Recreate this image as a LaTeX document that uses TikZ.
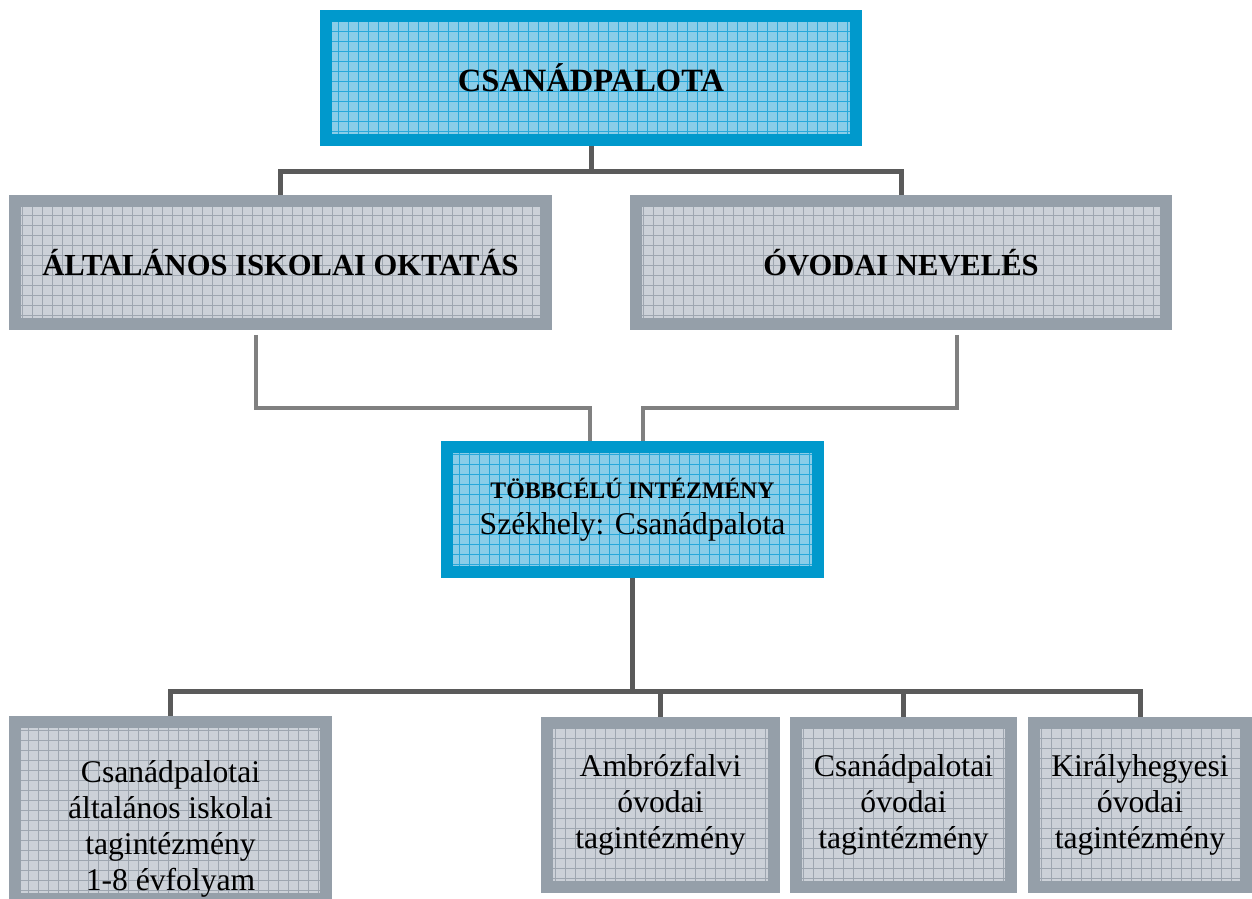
\documentclass[tikz,border=0pt]{standalone}
\usepackage{fontspec}
\setmainfont{Liberation Serif}
\usepackage{tikz}
\usetikzlibrary{calc}
\usepackage{xcolor}
\definecolor{cBlueEdge}{RGB}{0,153,204}
\definecolor{cBlueFill}{RGB}{138,205,232}
\definecolor{cBlueGrid}{RGB}{40,168,218}
\definecolor{cGrayEdge}{RGB}{149,159,169}
\definecolor{cGrayFill}{RGB}{204,209,216}
\definecolor{cGrayGrid}{RGB}{158,166,176}
\definecolor{cLineDark}{RGB}{90,90,90}
\definecolor{cLineMid}{RGB}{128,128,128}
\tikzset{
  basebox/.style={rectangle,line width=0.24cm,inner sep=0pt,align=center,
                  font=\fontsize{18}{20.5}\selectfont},
  bluebox/.style={basebox,draw=cBlueEdge,fill=cBlueFill,
                  path picture={\draw[cBlueGrid,line width=0.5pt,step=0.2cm]
                  (path picture bounding box.south west) grid
                  (path picture bounding box.north east);}},
  graybox/.style={basebox,draw=cGrayEdge,fill=cGrayFill,
                  path picture={\draw[cGrayGrid,line width=0.5pt,step=0.2cm]
                  (path picture bounding box.south west) grid
                  (path picture bounding box.north east);}},
  darkline/.style={draw=cLineDark,line width=0.1cm},
  midline/.style={draw=cLineMid,line width=0.08cm}
}
\begin{document}
\begin{tikzpicture}[x=0.02cm,y=-0.02cm]
  \useasboundingbox (0,0) rectangle (1252,899);

  \node[bluebox,minimum width=10.6cm,minimum height=2.48cm,
        font=\fontsize{18.5}{21}\selectfont\bfseries] (city) at (591,78)
      {CSANÁDPALOTA};

  \node[graybox,minimum width=10.62cm,minimum height=2.46cm,
        font=\fontsize{17.4}{20}\selectfont\bfseries] (school) at (280.5,262.5)
      {ÁLTALÁNOS ISKOLAI OKTATÁS};

  \node[graybox,minimum width=10.6cm,minimum height=2.46cm,
        font=\fontsize{17.4}{20}\selectfont\bfseries] (kinder) at (901,262.5)
      {ÓVODAI NEVELÉS};

  \node[bluebox,minimum width=7.42cm,minimum height=2.5cm] (hub) at (632.5,509.5)
      {{\fontsize{13.5}{19}\selectfont\bfseries TÖBBCÉLÚ INTÉZMÉNY}\\
       {\fontsize{18}{19}\selectfont Székhely: Csanádpalota}};

  \node[graybox,minimum width=6.22cm,minimum height=3.54cm] (unitA) at (170.5,810.5)
      {\rule{0pt}{33pt}Csanádpalotai\\általános iskolai\\tagintézmény\\1-8 évfolyam};

  \node[graybox,minimum width=4.54cm,minimum height=3.28cm] (unitB) at (660.5,805)
      {Ambrózfalvi\\óvodai\\tagintézmény};

  \node[graybox,minimum width=4.3cm,minimum height=3.28cm] (unitC) at (903.5,805)
      {Csanádpalotai\\óvodai\\tagintézmény};

  \node[graybox,minimum width=4.24cm,minimum height=3.28cm] (unitD) at (1140,805)
      {Királyhegyesi\\óvodai\\tagintézmény};

  \draw[darkline] (city.south) -- ++(0,26) -| (school.north);
  \draw[darkline] (city.south) -- ++(0,26) -| (kinder.north);

  \draw[midline] ($(school.south)+(-24.5,5)$) -- ++(0,73)
      -| ($(hub.north)+(-42.5,0)$);
  \draw[midline] ($(kinder.south)+(56,5)$) -- ++(0,73)
      -| ($(hub.north)+(10.5,0)$);

  \draw[darkline] (hub.south) -- ++(0,114) -| (unitA.north);
  \draw[darkline] (hub.south) -- ++(0,114) -| (unitB.north);
  \draw[darkline] (hub.south) -- ++(0,114) -| (unitC.north);
  \draw[darkline] (hub.south) -- ++(0,114) -| (unitD.north);

\end{tikzpicture}
\end{document}
